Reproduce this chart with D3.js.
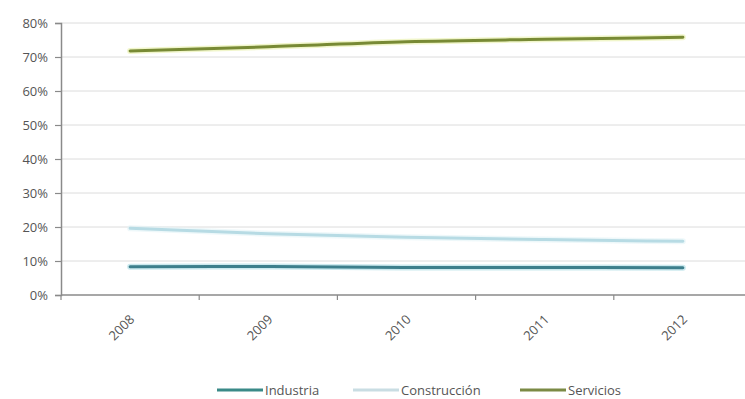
<!DOCTYPE html>
<html>
<head>
<meta charset="utf-8">
<script src="https://cdnjs.cloudflare.com/ajax/libs/d3/7.8.5/d3.min.js"></script>
<style>
  html, body { margin: 0; padding: 0; background: #fff; }
  svg text { font-family: "Open Sans", "Noto Sans", sans-serif; fill: #555; }
</style>
</head>
<body>
<svg id="chart" width="745" height="399"></svg>
<script>
// Employment share by sector, 2008–2012
const years = ["2008", "2009", "2010", "2011", "2012"];
const industria = [0.083, 0.084, 0.081, 0.081, 0.080];
const construccion = [0.196, 0.180, 0.170, 0.163, 0.158];
const servicios = [0.718, 0.730, 0.745, 0.752, 0.758];
const yTicks = [0, 0.1, 0.2, 0.3, 0.4, 0.5, 0.6, 0.7, 0.8];

const series = [
  { name: "Industria", values: industria, color: "#3d7f8c", glow: "#a9dbe3", key: "#3a8a88" },
  { name: "Construcción", values: construccion, color: "#b7dbe4", glow: "#e2f3f6", key: "#c9dde3" },
  { name: "Servicios", values: servicios, color: "#788a35", glow: "#e8f0a8", key: "#7b8a45" }
];

const svg = d3.select("#chart");
const margin = { left: 61, right: -7, top: 23, bottom: 104 };
const W = 745, H = 399;

const x = d3.scaleBand().domain(years).range([margin.left, W - margin.right]);
const y = d3.scaleLinear().domain([0, 0.8]).range([H - margin.bottom, margin.top]);

// horizontal gridlines
svg.append("g")
  .selectAll("line")
  .data(yTicks.slice(1))
  .join("line")
  .attr("x1", margin.left)
  .attr("x2", W)
  .attr("y1", d => y(d))
  .attr("y2", d => y(d))
  .attr("stroke", "#dcdcdc")
  .attr("stroke-width", 1);

// y axis
const yAxis = svg.append("g")
  .attr("transform", `translate(${margin.left},0)`)
  .call(d3.axisLeft(y).tickValues(yTicks).tickFormat(d3.format(".0%")).tickSize(6).tickPadding(7));
yAxis.select(".domain").attr("stroke", "#8a8a8a").attr("stroke-width", 1.5);
yAxis.selectAll(".tick line").attr("stroke", "#8a8a8a").attr("stroke-width", 1.2);
yAxis.selectAll(".tick text").attr("font-size", 13).attr("fill", "#555");

// x axis with ticks at band edges
const xAxisG = svg.append("g")
  .attr("transform", `translate(0,${y(0)})`);
xAxisG.append("line")
  .attr("x1", margin.left).attr("x2", W)
  .attr("y1", 0).attr("y2", 0)
  .attr("stroke", "#8a8a8a").attr("stroke-width", 1.5);
xAxisG.selectAll("line.tk")
  .data(years)
  .join("line")
  .attr("class", "tk")
  .attr("x1", d => x(d)).attr("x2", d => x(d))
  .attr("y1", 0).attr("y2", 5)
  .attr("stroke", "#8a8a8a").attr("stroke-width", 1.2);
xAxisG.selectAll("text")
  .data(years)
  .join("text")
  .attr("transform", d => `translate(${x(d) + x.bandwidth() / 2 + 2},${22}) rotate(-45)`)
  .attr("text-anchor", "end")
  .attr("dy", "0.35em")
  .attr("font-size", 13)
  .text(d => d);

// series lines
const line = d3.line()
  .x((d, i) => x(years[i]) + x.bandwidth() / 2)
  .y(d => y(d))
  .curve(d3.curveMonotoneX);

const lines = svg.append("g");
series.forEach(s => {
  lines.append("path")
    .attr("d", line(s.values))
    .attr("fill", "none")
    .attr("stroke", s.glow)
    .attr("stroke-width", 6)
    .attr("stroke-linecap", "round")
    .attr("opacity", 0.6);
  lines.append("path")
    .attr("d", line(s.values))
    .attr("fill", "none")
    .attr("stroke", s.color)
    .attr("stroke-width", 3)
    .attr("stroke-linecap", "round");
});

// legend
const legendX = [217, 353, 520];
const legend = svg.append("g").attr("transform", "translate(0,390)");
series.forEach((s, i) => {
  legend.append("line")
    .attr("x1", legendX[i]).attr("x2", legendX[i] + 46)
    .attr("y1", 0).attr("y2", 0)
    .attr("stroke", s.key).attr("stroke-width", 3);
  legend.append("text")
    .attr("x", legendX[i] + 48)
    .attr("y", 0)
    .attr("dy", "0.35em")
    .attr("font-size", 13)
    .text(s.name);
});
</script>
</body>
</html>
